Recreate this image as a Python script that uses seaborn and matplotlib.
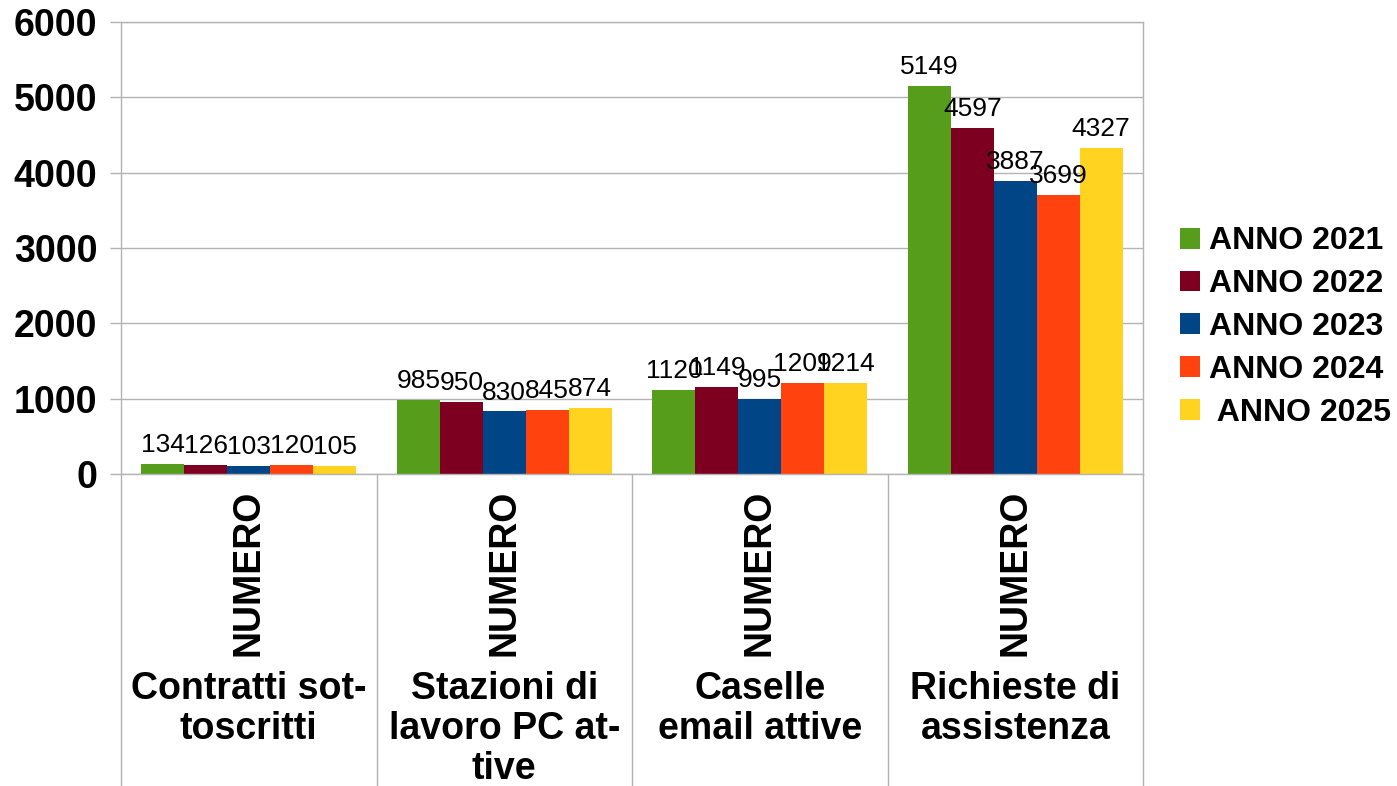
import pandas as pd
import numpy as np
import seaborn as sns
import matplotlib.pyplot as plt

# Dati
categorie = ['Contratti sottoscritti', 'Stazioni di lavoro PC attive',
             'Caselle email attive', 'Richieste di assistenza']
nomi_a_capo = ['Contratti sot-\ntoscritti', 'Stazioni di\nlavoro PC at-\ntive',
               'Caselle\nemail attive', 'Richieste di\nassistenza']
anni = ['ANNO 2021', 'ANNO 2022', 'ANNO 2023', 'ANNO 2024', ' ANNO 2025']
anno_2021 = [134, 985, 1120, 5149]
anno_2022 = [126, 950, 1149, 4597]
anno_2023 = [103, 830, 995, 3887]
anno_2024 = [120, 845, 1209, 3699]
anno_2025 = [105, 874, 1214, 4327]
colori = ['#579d1c', '#7e0021', '#004586', '#ff420e', '#ffd320']

valori = [anno_2021, anno_2022, anno_2023, anno_2024, anno_2025]
df = pd.DataFrame({
    'categoria': categorie * len(anni),
    'anno': [a for a in anni for _ in categorie],
    'valore': [v for serie in valori for v in serie],
})

sns.set_theme(style='white')
plt.rcParams['font.family'] = ['Liberation Sans', 'DejaVu Sans']
plt.rcParams['text.color'] = 'black'
plt.rcParams['xtick.labelcolor'] = 'black'
plt.rcParams['ytick.labelcolor'] = 'black'

grigio = '#b3b3b3'
fig = plt.figure(figsize=(13.97, 7.86), dpi=100)
ax = fig.add_axes([121 / 1397, 312 / 786, 1022 / 1397, 452 / 786])

sns.barplot(data=df, x='categoria', y='valore', hue='anno', hue_order=anni,
            palette=colori, saturation=1, width=0.84, ax=ax, legend=True,
            linewidth=0, edgecolor='none')

for c in ax.containers:
    ax.bar_label(c, fmt='%d', fontsize=19, padding=5, color='black')

ax.set_xlim(-0.5, 3.5)
ax.set_ylim(0, 6000)
ax.set_yticks(np.arange(0, 6001, 1000))
ax.yaxis.grid(True, color=grigio, linewidth=1)
ax.set_axisbelow(True)
for s in ax.spines.values():
    s.set_color(grigio)
    s.set_linewidth(1)
ax.tick_params(axis='y', left=True, length=8, width=1, color=grigio, pad=9,
               labelsize=27, labelcolor='black')
for t in ax.get_yticklabels():
    t.set_fontweight('bold')

ax.set_xticks(range(len(categorie)))
ax.set_xticklabels(['NUMERO'] * len(categorie), rotation=90, fontsize=27,
                   fontweight='bold', color='black')
ax.tick_params(axis='x', bottom=False, length=0, pad=11)
ax.set_xlabel('')
ax.set_ylabel('')

# separatori e nomi delle categorie sotto l'asse
trans = ax.get_xaxis_transform()
for x in np.arange(-0.5, len(categorie), 1.0):
    ax.plot([x, x], [0, -0.69], transform=trans, color=grigio, linewidth=1,
            clip_on=False)
for i, nome in enumerate(nomi_a_capo):
    ax.text(i, -0.436, nome, transform=trans, ha='center', va='top',
            fontsize=27, fontweight='bold', linespacing=1.14, color='black')

h, l = ax.get_legend_handles_labels()
leg = ax.legend(h, anni, loc='center left', bbox_to_anchor=(1180 / 1397, 1 - 327 / 786),
                bbox_transform=fig.transFigure, frameon=False, borderpad=0,
                borderaxespad=0, prop={'weight': 'bold', 'size': 23},
                handlelength=0.62, handleheight=0.62, handletextpad=0.3,
                labelspacing=0.4)
for t in leg.get_texts():
    t.set_color('black')

fig.savefig('out.png', dpi=100)
